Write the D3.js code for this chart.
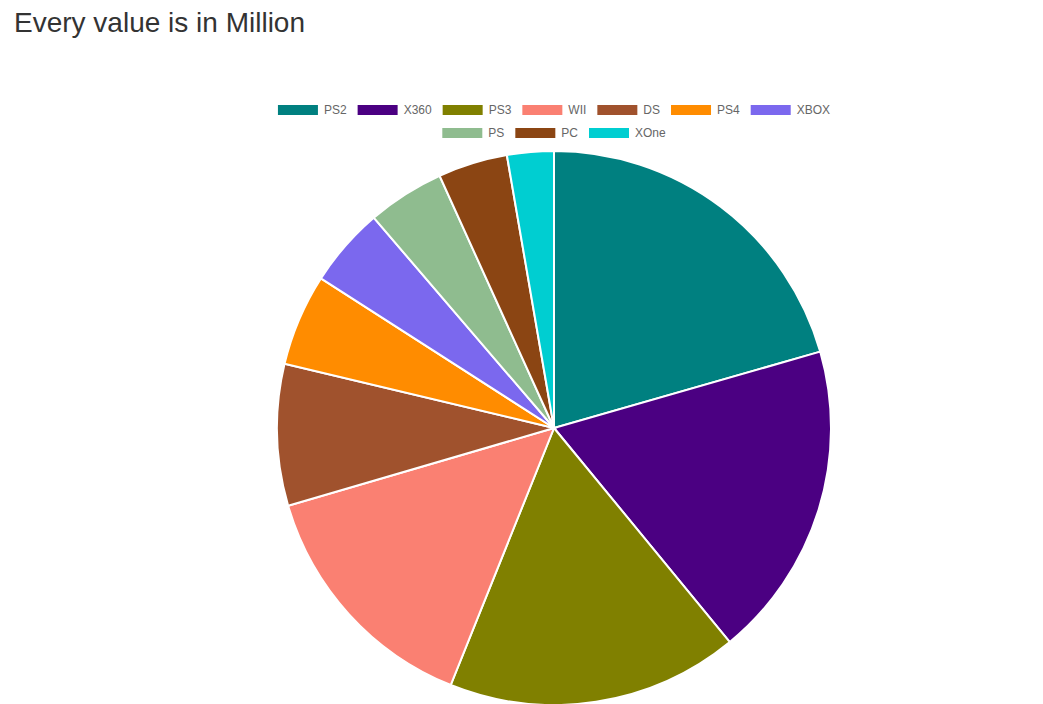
<!DOCTYPE html>
<html><head><meta charset="utf-8">
<script src="https://cdn.jsdelivr.net/npm/d3@7"></script>
<style>body{margin:0;background:#fff;font-family:"Liberation Sans",Arial,sans-serif}</style>
</head><body>
<svg id="c" width="1043" height="704"></svg>
<script>
const categories = ["PS2","X360","PS3","WII","DS","PS4","XBOX","PS","PC","XOne"];
const values = [74.0, 66.6, 61.3, 51.8, 29.7, 19.3, 16.7, 16.2, 14.6, 9.8];
const colors = ["#008080","#4b0082","#808000","#fa8072","#a0522d","#ff8c00","#7b68ee","#8fbc8f","#8b4513","#00ced1"];

const svg = d3.select("#c");
svg.append("text").attr("x",14).attr("y",32).attr("font-size",28).attr("fill","#333").text("Every value is in Million");

const cx=554, cy=428, r=277;
const pie = d3.pie().sort(null).value(d=>d)(values);
const arc = d3.arc().innerRadius(0).outerRadius(r);
svg.append("g").attr("transform",`translate(${cx},${cy})`).selectAll("path").data(pie).join("path")
  .attr("d",arc).attr("fill",(d,i)=>colors[i]).attr("stroke","#fff").attr("stroke-width",2);

// legend
const rows=[[0,1,2,3,4,5,6],[7,8,9]];
const rowY=[110,133];
const tmp = svg.append("text").attr("font-size",12);
function tw(s){tmp.text(s);return tmp.node().getComputedTextLength();}
rows.forEach((row,ri)=>{
  const widths=row.map(i=>40+6+tw(categories[i]));
  const gap=11;
  const total=d3.sum(widths)+gap*(row.length-1);
  let x=cx-total/2;
  const g=svg.append("g");
  row.forEach((i,k)=>{
    g.append("rect").attr("x",x).attr("y",rowY[ri]-5).attr("width",40).attr("height",10).attr("fill",colors[i]);
    g.append("text").attr("x",x+46).attr("y",rowY[ri]+4).attr("font-size",12).attr("fill","#666").text(categories[i]);
    x+=widths[k]+gap;
  });
});
tmp.remove();
</script>
</body></html>
